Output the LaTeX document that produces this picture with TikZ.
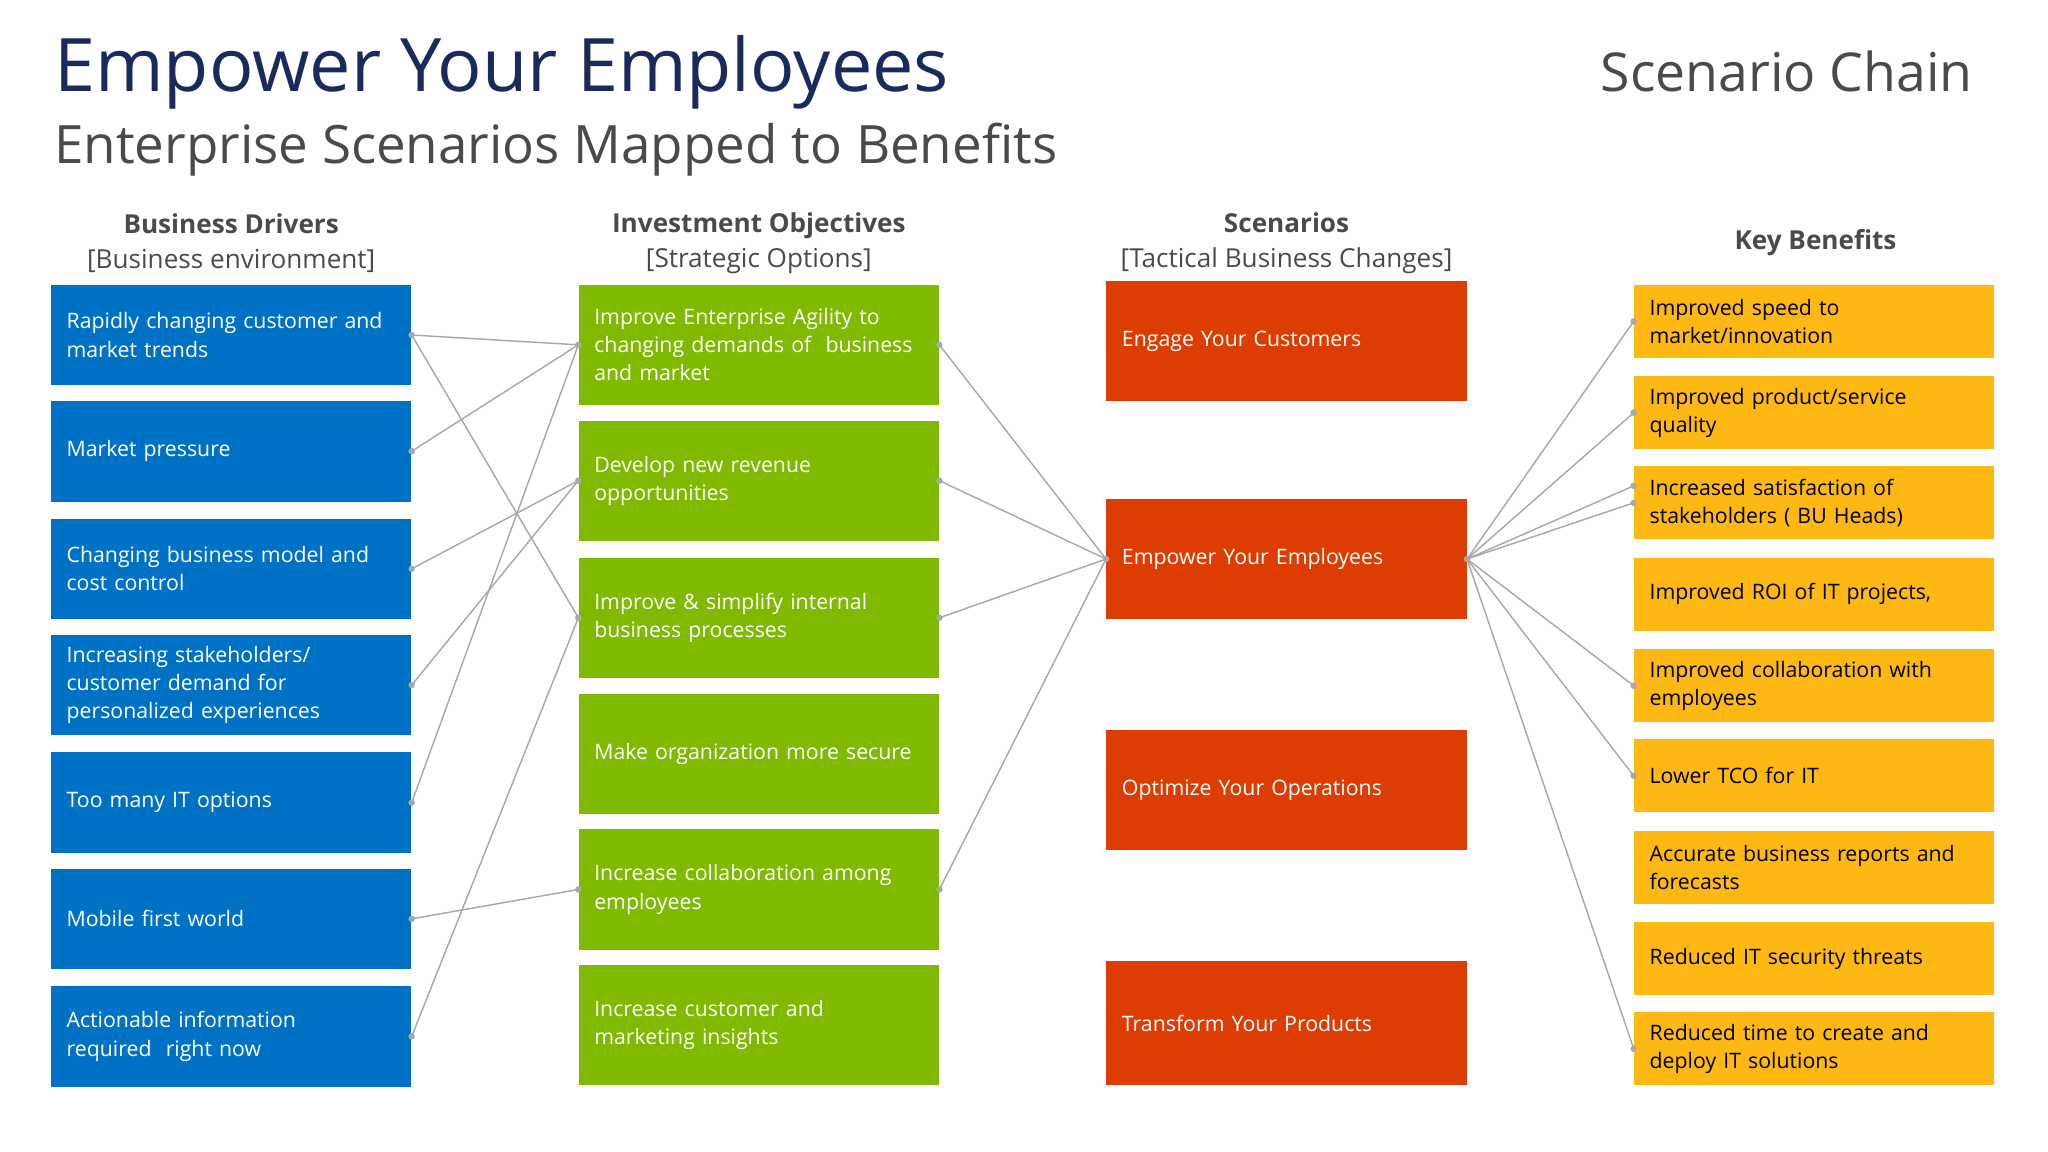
\documentclass[tikz,border=0pt]{standalone}
\usepackage{fontspec}
\setmainfont{Open Sans}
\definecolor{cblue}{HTML}{0072C6}
\definecolor{cgreen}{HTML}{7FBA00}
\definecolor{cred}{HTML}{DD3D02}
\definecolor{cyel}{HTML}{FDB813}
\definecolor{navy}{HTML}{1B2A5C}
\definecolor{tgray}{HTML}{4A4A4A}
\definecolor{lgray}{HTML}{A8A8A8}
\newcommand{\nohyph}{\hyphenpenalty=10000 \exhyphenpenalty=10000\relax}
\tikzset{
 boxbase/.style={inner xsep=12pt,inner ysep=0pt,text width=252pt,align=left,font=\fontsize{16.3}{21.5}\selectfont\nohyph},
 bbox/.style={boxbase,fill=cblue,text=white,minimum height=77pt},
 gbox/.style={boxbase,fill=cgreen,text=white,minimum height=92pt},
 rbox/.style={boxbase,fill=cred,text=white,minimum height=92pt},
 ybox/.style={boxbase,fill=cyel,text=black,minimum height=56pt},
 hdr/.style={font=\fontsize{20}{27}\selectfont,text=tgray,align=center},
 link/.style={draw=lgray,line width=1.1pt},
 dot/.style={circle,fill=lgray,inner sep=0pt,minimum size=5pt}
}
\begin{document}
\begin{tikzpicture}[x=1pt,y=-1pt]
\useasboundingbox (0,0) rectangle (1568,882);
\node[anchor=base west,text=navy,font=\fontsize{56.5}{62}\selectfont] (title) at (38,70) {Empower Your Employees};
\node[anchor=base west,text=tgray,font=\fontsize{40.5}{46}\selectfont] (sub) at (38,125) {Enterprise Scenarios Mapped to Benefits};
\node[anchor=base east,text=tgray,font=\fontsize{41}{46}\selectfont] (chain) at (1514,70) {Scenario Chain};
\node[hdr] (h1) at (177,186) {\textbf{Business Drivers}\\{[Business environment]}};
\node[hdr] (h2) at (581,186) {\textbf{Investment Objectives}\\{[Strategic Options]}};
\node[hdr] (h3) at (985,186) {\textbf{Scenarios}\\{[Tactical Business Changes]}};
\node[hdr] (h4) at (1390,186) {\textbf{Key Benefits}};
% blue
\node[bbox] (b1) at (177,256.5) {Rapidly changing customer and\\market trends};
\node[bbox] (b2) at (177,345.5) {Market pressure};
\node[bbox] (b3) at (177,435.5) {Changing business model and\\cost control};
\node[bbox] (b4) at (177,524.5) {Increasing stakeholders/\\customer demand for\\personalized experiences};
\node[bbox] (b5) at (177,614.5) {Too many IT options};
\node[bbox] (b6) at (177,703.5) {Mobile first world};
\node[bbox] (b7) at (177,793.5) {Actionable information\\required\ \ right now};
% green
\node[gbox] (g1) at (581,264) {Improve Enterprise Agility to\\changing demands of\ \ business\\and market};
\node[gbox] (g2) at (581,368) {Develop new revenue\\opportunities};
\node[gbox] (g3) at (581,473) {Improve \& simplify internal\\business processes};
\node[gbox] (g4) at (581,577) {Make organization more secure};
\node[gbox] (g5) at (581,681) {Increase collaboration among\\employees};
\node[gbox] (g6) at (581,785) {Increase customer and\\marketing insights};
% red
\node[rbox] (r1) at (985,261) {Engage Your Customers};
\node[rbox] (r2) at (985,428) {Empower Your Employees};
\node[rbox] (r3) at (985,605) {Optimize Your Operations};
\node[rbox,minimum height=95pt] (r4) at (985,783.5) {Transform Your Products};
% yellow
\node[ybox] (y1) at (1389,246) {Improved speed to\\market/innovation};
\node[ybox] (y2) at (1389,316) {Improved product/service\\quality};
\node[ybox] (y3) at (1389,385) {Increased satisfaction of\\stakeholders ( BU Heads)};
\node[ybox] (y4) at (1389,455) {Improved ROI of IT projects,};
\node[ybox] (y5) at (1389,525) {Improved collaboration with\\employees};
\node[ybox] (y6) at (1389,594) {Lower TCO for IT};
\node[ybox] (y7) at (1389,664) {Accurate business reports and\\forecasts};
\node[ybox] (y8) at (1389,734) {Reduced IT security threats};
\node[ybox] (y9) at (1389,803) {Reduced time to create and\\deploy IT solutions};
% links left
\draw[link] (b1.east) -- (g1.west);
\draw[link] (b1.east) -- (g3.west);
\draw[link] (b2.east) -- (g1.west);
\draw[link] (b3.east) -- (g2.west);
\draw[link] (b4.east) -- (g2.west);
\draw[link] (b5.east) -- (g1.west);
\draw[link] (b6.east) -- (g5.west);
\draw[link] (b7.east) -- (g3.west);
% links middle
\foreach \g in {g1,g2,g3,g5} \draw[link] (\g.east) -- (r2.west);
% links right
\foreach \y in {y1,y2,y3,y5,y6,y9} \draw[link] (r2.east) -- (\y.west);
\draw[link] (r2.east) -- ([yshift=13pt]y3.west);
% dots
\foreach \n in {b1,b2,b3,b4,b5,b6,b7,g1,g2,g3,g5,r2} {
  \node[dot] at (\n.east) {}; }
\foreach \n in {g1,g2,g3,g5,r2,y1,y2,y3,y5,y6,y9} {
  \node[dot] at (\n.west) {}; }
\node[dot] at ([yshift=13pt]y3.west) {};
\end{tikzpicture}
\end{document}
